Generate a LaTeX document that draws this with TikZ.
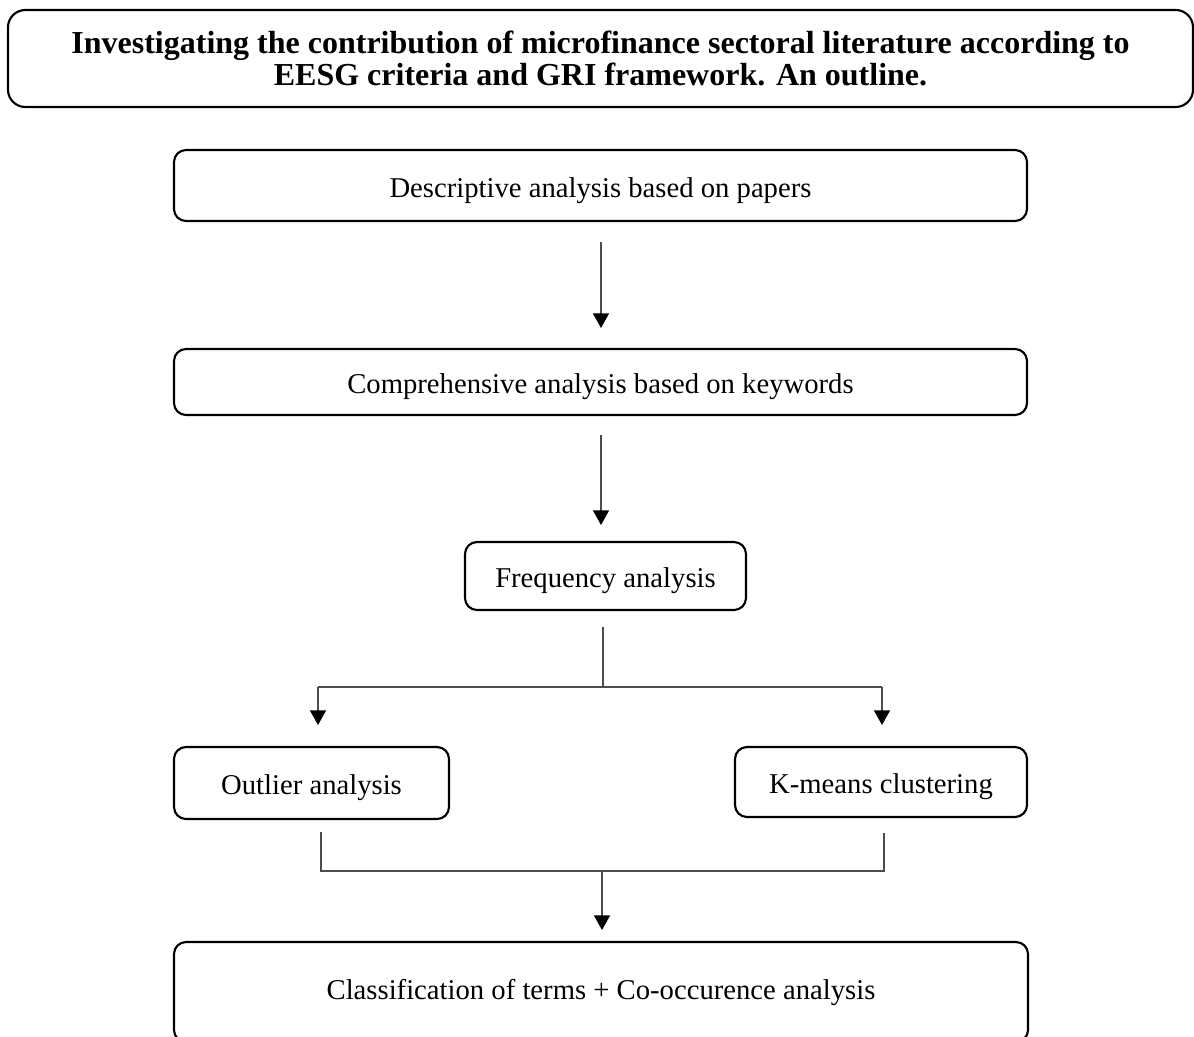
\documentclass[tikz,border=0pt]{standalone}
\usepackage{fontspec}
\setmainfont{Liberation Serif}
\usetikzlibrary{arrows.meta,calc}
\begin{document}
\begin{tikzpicture}[x=0.75pt,y=-0.75pt,
  every node/.style={inner sep=0pt,outer sep=0pt},
  stagebox/.style={draw=black,line width=1.6pt,rounded corners=9pt,align=center,
    font=\fontsize{21.5}{26}\selectfont},
  lowtext/.style={text height=20pt,text depth=2.5pt},
  titlebox/.style={draw=black,line width=1.6pt,rounded corners=13pt,align=center,
    font=\fontsize{24}{24.5}\selectfont\bfseries},
  conn/.style={draw=black!70,line width=1.1pt},
  arr/.style={conn,-{Triangle[width=12pt,length=11pt,fill=black,color=black]}}]
\useasboundingbox (0,0) rectangle (1194,1036);
\clip (0,0) rectangle (1194,1036);
\node[titlebox,minimum width=888.75pt,minimum height=72.75pt] (title) at (600.5,58.5)
  {Investigating the contribution of microfinance sectoral literature according to\\EESG criteria and GRI framework. An outline.};
\node[stagebox,lowtext,minimum width=639.75pt,minimum height=53.25pt] (desc) at (600.5,185.5)
  {Descriptive analysis based on papers};
\node[stagebox,lowtext,minimum width=639.75pt,minimum height=49.5pt] (comp) at (600.5,382)
  {Comprehensive analysis based on keywords};
\node[stagebox,lowtext,minimum width=210.75pt,minimum height=51pt] (freq) at (605.5,576)
  {Frequency analysis};
\node[stagebox,lowtext,minimum width=206.25pt,minimum height=54pt] (outl) at (311.5,783)
  {Outlier analysis};
\node[stagebox,lowtext,minimum width=219pt,minimum height=52.5pt] (kmean) at (881,782)
  {K-means clustering};
\node[stagebox,minimum width=640.5pt,minimum height=75pt] (clas) at (601,992)
  {Classification of terms + Co-occurence analysis};
% arrows
\coordinate (a1) at (601,242);
\draw[arr,shorten >=15.75pt] (a1) -- (a1 |- comp.north);
\coordinate (a2) at (601,435);
\draw[arr,shorten >=12.75pt] (a2) -- (a2 |- freq.north);
% split
\coordinate (s) at (603,687);
\coordinate (sl) at (318,687);
\coordinate (sr) at (882,687);
\draw[conn] ($(s |- freq.south)+(0,17)$) -- (s);
\draw[conn] (sl) -- (sr);
\draw[arr,shorten >=16.5pt] (sl) -- (sl |- outl.north);
\draw[arr,shorten >=16.5pt] (sr) -- (sr |- kmean.north);
% merge
\coordinate (ml) at (321,871);
\coordinate (mr) at (884,871);
\coordinate (m) at (602,871);
\draw[conn] ($(ml |- outl.south)+(0,13)$) -- (ml) -- (mr) -- ($(mr |- kmean.south)+(0,16)$);
\draw[arr,shorten >=9pt] (m) -- (m |- clas.north);
\end{tikzpicture}
\end{document}
